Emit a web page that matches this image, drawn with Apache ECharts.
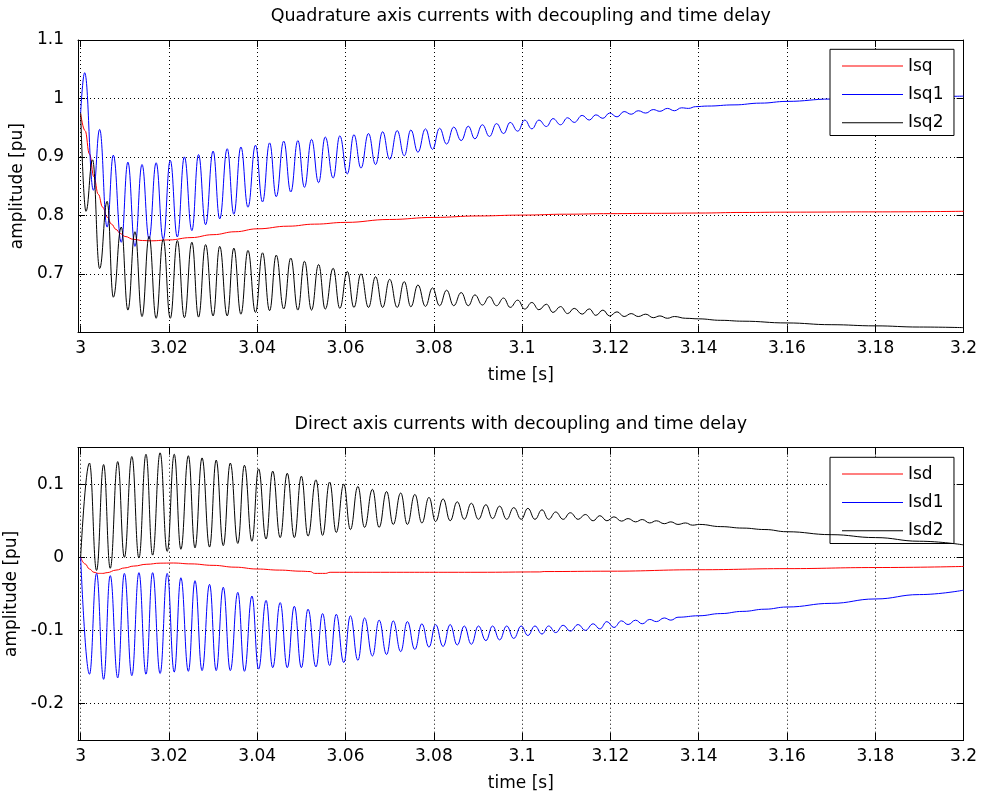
<!DOCTYPE html>
<html>
<head>
<meta charset="utf-8">
<script src="https://cdn.jsdelivr.net/npm/echarts@6/dist/echarts.min.js"></script>
<style>
html,body{margin:0;padding:0;background:#fff;}
#chart{width:982px;height:797px;}
</style>
</head>
<body>
<div id="chart"></div>
<script>
// ---------------- data ----------------
const titles = ['Quadrature axis currents with decoupling and time delay',
                'Direct axis currents with decoupling and time delay'];
const legendQ = ['Isq', 'Isq1', 'Isq2'];
const legendD = ['Isd', 'Isd1', 'Isd2'];
const xName = 'time [s]';
const yName = 'amplitude [pu]';
const xRange = [2.9994, 3.2];
const yRangeQ = [0.6, 1.1];
const yRangeD = [-0.25, 0.15];

const isq = [[3.0,0.974],[3.001,0.945],[3.002,0.905],[3.003,0.866],[3.004,0.836],[3.005,0.814],[3.006,0.797],
[3.007,0.785],[3.008,0.776],[3.009,0.769],[3.010,0.764],[3.012,0.759],[3.014,0.757],[3.016,0.7565],[3.020,0.758],
[3.025,0.762],[3.030,0.767],[3.035,0.772],[3.040,0.777],[3.047,0.7815],[3.053,0.785],[3.060,0.788],[3.070,0.793],
[3.080,0.7965],[3.090,0.799],[3.100,0.8005],[3.110,0.802],[3.120,0.803],[3.130,0.8035],[3.140,0.804],[3.150,0.805],
[3.160,0.8055],[3.180,0.806],[3.200,0.807]];

const isq1 = [[3.0,0.975],[3.0009,1.044],[3.0029,0.843],[3.0043,0.947],[3.0060,0.780],[3.0074,0.903],[3.0092,0.754],
[3.0107,0.891],[3.0123,0.747],[3.0139,0.887],[3.0155,0.760],[3.0171,0.890],[3.0187,0.759],[3.0203,0.894],[3.0219,0.763],
[3.0235,0.900],[3.0252,0.774],[3.0267,0.904],[3.0283,0.784],[3.0300,0.910],[3.0315,0.794],[3.0332,0.914],[3.0347,0.802],
[3.0363,0.917],[3.0379,0.814],[3.0396,0.920],[3.0412,0.823],[3.0428,0.924],[3.0443,0.832],[3.0460,0.927],[3.0476,0.840],
[3.0492,0.928],[3.0507,0.848],[3.0523,0.930],[3.0539,0.856],[3.0554,0.934],[3.0572,0.864],[3.0587,0.936],[3.0604,0.871],
[3.0619,0.938],[3.0635,0.881],[3.0652,0.940],[3.0668,0.887],[3.0684,0.943],[3.0700,0.896],[3.0717,0.945],[3.0733,0.902],
[3.0748,0.946],[3.0764,0.908],[3.0781,0.948],[3.0797,0.913],[3.0813,0.949],[3.0829,0.922],[3.0845,0.951],[3.0862,0.928],
[3.0878,0.9525],[3.0893,0.931],[3.0910,0.955],[3.0926,0.935],[3.0942,0.957],[3.0958,0.940],[3.0973,0.959],[3.0990,0.944],
[3.1006,0.963],[3.1022,0.948],[3.1038,0.963],[3.1055,0.952],[3.1070,0.9655],[3.1087,0.955],[3.1103,0.967],[3.1118,0.959],
[3.1136,0.971],[3.1152,0.963],[3.1167,0.972],[3.1183,0.966],[3.1198,0.975],[3.1215,0.9685],[3.1231,0.9776],[3.1247,0.973],
[3.1263,0.979],[3.1280,0.975],[3.1297,0.981],[3.1312,0.978],[3.1329,0.983],[3.1345,0.979],[3.1361,0.984],[3.1377,0.983],
[3.1393,0.986],[3.142,0.987],[3.148,0.989],[3.154,0.992],[3.160,0.995],[3.170,0.999],[3.180,1.001],[3.190,1.003],[3.200,1.004]];

const isq2 = [[3.0,0.975],[3.0012,0.807],[3.0027,0.895],[3.0043,0.709],[3.0060,0.824],[3.0074,0.660],[3.0092,0.780],
[3.0107,0.638],[3.0123,0.772],[3.0139,0.627],[3.0155,0.764],[3.0171,0.624],[3.0187,0.759],[3.0203,0.624],[3.0219,0.757],
[3.0235,0.625],[3.0252,0.754],[3.0267,0.626],[3.0283,0.750],[3.0300,0.628],[3.0315,0.747],[3.0332,0.628],[3.0347,0.744],
[3.0363,0.631],[3.0379,0.740],[3.0396,0.634],[3.0412,0.736],[3.0428,0.637],[3.0443,0.732],[3.0460,0.640],[3.0476,0.727],
[3.0492,0.638],[3.0507,0.7215],[3.0523,0.638],[3.0539,0.716],[3.0554,0.6397],[3.0572,0.7095],[3.0587,0.641],[3.0604,0.704],
[3.0619,0.6426],[3.0635,0.700],[3.0652,0.6426],[3.0668,0.695],[3.0684,0.6426],[3.0700,0.6906],[3.0717,0.6426],[3.0733,0.6866],
[3.0748,0.6437],[3.0764,0.681],[3.0781,0.6443],[3.0797,0.676],[3.0813,0.6455],[3.0829,0.672],[3.0845,0.6455],[3.0862,0.668],
[3.0878,0.6455],[3.0893,0.664],[3.0910,0.6466],[3.0926,0.661],[3.0942,0.6455],[3.0958,0.6586],[3.0973,0.6426],[3.0990,0.655],
[3.1006,0.6397],[3.1022,0.651],[3.1038,0.6386],[3.1055,0.648],[3.1070,0.634],[3.1087,0.644],[3.1103,0.632],[3.1118,0.641],
[3.1136,0.631],[3.1152,0.640],[3.1167,0.629],[3.1183,0.638],[3.1198,0.628],[3.1215,0.635],[3.1231,0.627],[3.1247,0.632],
[3.1263,0.627],[3.1280,0.631],[3.1297,0.625],[3.1312,0.628],[3.1329,0.624],[3.1345,0.627],[3.137,0.624],[3.140,0.623],
[3.145,0.6205],[3.150,0.619],[3.160,0.616],[3.170,0.613],[3.180,0.611],[3.190,0.609],[3.200,0.608]];

const isd = [[3.0,0.0],[3.001,-0.009],[3.002,-0.016],[3.003,-0.0205],[3.004,-0.022],[3.005,-0.022],[3.006,-0.021],
[3.008,-0.0175],[3.010,-0.0145],[3.012,-0.012],[3.015,-0.0095],[3.018,-0.008],[3.021,-0.0078],[3.025,-0.009],[3.030,-0.011],
[3.035,-0.0135],[3.040,-0.016],[3.045,-0.0175],[3.050,-0.019],[3.052,-0.0195],[3.053,-0.022],[3.0555,-0.022],[3.0565,-0.0205],
[3.070,-0.0205],[3.090,-0.0205],[3.104,-0.020],[3.105,-0.0195],[3.120,-0.019],[3.140,-0.017],[3.160,-0.0155],[3.180,-0.014],
[3.200,-0.0125]];

const isd1 = [[3.0,0.0],[3.0020,-0.160],[3.0036,-0.022],[3.0052,-0.167],[3.0067,-0.025],[3.0084,-0.165],[3.0099,-0.022],
[3.0116,-0.162],[3.0132,-0.021],[3.0148,-0.160],[3.0163,-0.021],[3.0180,-0.159],[3.0196,-0.022],[3.0212,-0.157],[3.0227,-0.028],
[3.0244,-0.156],[3.0259,-0.032],[3.0275,-0.155],[3.0292,-0.037],[3.0307,-0.155],[3.0323,-0.041],[3.0339,-0.155],[3.0356,-0.048],
[3.0371,-0.156],[3.0388,-0.053],[3.0403,-0.153],[3.0420,-0.059],[3.0435,-0.151],[3.0452,-0.062],[3.0468,-0.151],[3.0484,-0.067],
[3.0500,-0.151],[3.0515,-0.071],[3.0533,-0.150],[3.0548,-0.077],[3.0564,-0.148],[3.0579,-0.078],[3.0596,-0.144],[3.0611,-0.080],
[3.0628,-0.141],[3.0643,-0.083],[3.0661,-0.135],[3.0676,-0.086],[3.0693,-0.133],[3.0708,-0.087],[3.0725,-0.129],[3.0740,-0.088],
[3.0757,-0.126],[3.0773,-0.091],[3.0789,-0.123],[3.0804,-0.092],[3.0821,-0.122],[3.0837,-0.092],[3.0853,-0.120],[3.0869,-0.094],
[3.0885,-0.119],[3.0901,-0.094],[3.0918,-0.114],[3.0933,-0.094],[3.0949,-0.113],[3.0965,-0.094],[3.0981,-0.111],[3.0998,-0.094],
[3.1013,-0.107],[3.1029,-0.094],[3.1045,-0.105],[3.1060,-0.094],[3.1076,-0.103],[3.1093,-0.093],[3.1109,-0.101],[3.1127,-0.092],
[3.1143,-0.100],[3.1161,-0.091],[3.1176,-0.098],[3.1192,-0.088],[3.1208,-0.096],[3.1225,-0.087],[3.1240,-0.092],[3.1257,-0.086],
[3.1272,-0.091],[3.1289,-0.085],[3.1304,-0.088],[3.1322,-0.083],[3.1337,-0.086],[3.1353,-0.082],[3.140,-0.080],[3.145,-0.077],
[3.150,-0.074],[3.155,-0.071],[3.160,-0.068],[3.170,-0.063],[3.180,-0.057],[3.190,-0.051],[3.200,-0.045]];

const isd2 = [[3.0,0.0],[3.0020,0.129],[3.0036,-0.018],[3.0052,0.127],[3.0067,-0.015],[3.0084,0.131],[3.0099,0.0],
[3.0116,0.138],[3.0132,-0.001],[3.0148,0.141],[3.0163,0.003],[3.0180,0.143],[3.0196,0.008],[3.0212,0.141],[3.0227,0.011],
[3.0244,0.139],[3.0259,0.013],[3.0275,0.136],[3.0292,0.014],[3.0307,0.133],[3.0323,0.016],[3.0339,0.129],[3.0356,0.019],
[3.0371,0.126],[3.0388,0.022],[3.0403,0.121],[3.0420,0.025],[3.0435,0.118],[3.0452,0.027],[3.0468,0.115],[3.0484,0.027],
[3.0500,0.111],[3.0515,0.029],[3.0533,0.106],[3.0548,0.030],[3.0564,0.103],[3.0579,0.034],[3.0596,0.100],[3.0611,0.038],
[3.0628,0.097],[3.0643,0.041],[3.0661,0.093],[3.0676,0.041],[3.0693,0.090],[3.0708,0.045],[3.0725,0.088],[3.0740,0.045],
[3.0757,0.086],[3.0773,0.047],[3.0789,0.082],[3.0804,0.049],[3.0821,0.080],[3.0837,0.050],[3.0853,0.076],[3.0869,0.052],
[3.0885,0.074],[3.0901,0.052],[3.0918,0.072],[3.0933,0.053],[3.0949,0.070],[3.0965,0.052],[3.0981,0.068],[3.0998,0.052],
[3.1013,0.067],[3.1029,0.052],[3.1045,0.065],[3.1060,0.052],[3.1076,0.062],[3.1093,0.052],[3.1109,0.061],[3.1127,0.052],
[3.1143,0.0586],[3.1161,0.050],[3.1176,0.057],[3.1192,0.050],[3.1208,0.0554],[3.1225,0.0495],[3.1240,0.053],[3.1257,0.0485],
[3.1272,0.0517],[3.1289,0.047],[3.1304,0.050],[3.1322,0.046],[3.1337,0.0485],[3.1353,0.045],[3.1370,0.047],[3.1386,0.044],
[3.1402,0.045],[3.145,0.042],[3.150,0.040],[3.155,0.038],[3.160,0.035],[3.170,0.031],[3.180,0.027],[3.190,0.022],[3.200,0.017]];

// ---------------- styling ----------------
const FONT = '"DejaVu Sans", "Liberation Sans", Arial, sans-serif';
const FS = 17;
const BLACK = '#000000';
const colors = ['#ff0000', '#0000ff', '#000000'];
const fmt = v => String(parseFloat(Number(v).toFixed(4)));
const txt = {color: BLACK, fontFamily: FONT, fontSize: FS};

const grids = [
  {left: 78, right: 18.4, top: 40, height: 292.3, outerBoundsMode: 'none', containLabel: false},
  {left: 78, right: 18.4, top: 447.7, height: 292.3, outerBoundsMode: 'none', containLabel: false}
];

function xAx(g, pos, main) {
  return {
    type: 'value', gridIndex: g, position: pos, min: xRange[0], max: xRange[1],
    splitNumber: 10, minInterval: 0.02, maxInterval: 0.02,
    axisLine: {show: true, onZero: false, lineStyle: {color: BLACK, width: 1}},
    axisTick: {show: true, inside: true, length: 7, lineStyle: {color: BLACK, width: 1}},
    axisLabel: Object.assign({show: main, showMinLabel: false, margin: 8, formatter: fmt}, txt),
    splitLine: {show: main, lineStyle: {color: BLACK, type: [1, 3], width: 1}},
    name: main ? xName : '', nameLocation: 'middle', nameGap: 35, nameTextStyle: txt
  };
}
function yAx(g, pos, main, range) {
  return {
    type: 'value', gridIndex: g, position: pos, min: range[0], max: range[1],
    splitNumber: 5, minInterval: 0.1, maxInterval: 0.1,
    axisLine: {show: true, onZero: false, lineStyle: {color: BLACK, width: 1}},
    axisTick: {show: true, inside: true, length: 7, lineStyle: {color: BLACK, width: 1}},
    axisLabel: Object.assign({show: main, showMinLabel: false, showMaxLabel: g === 0, margin: 14, formatter: fmt}, txt),
    splitLine: {show: main, lineStyle: {color: BLACK, type: [1, 3], width: 1}},
    name: main ? yName : '', nameLocation: 'middle', nameGap: 44, nameTextStyle: txt
  };
}
function line(name, data, color, xi, yi, z) {
  return {
    name, type: 'line', data, xAxisIndex: xi, yAxisIndex: yi,
    symbol: 'none', smooth: 0.45, smoothMonotone: 'x', z: z,
    lineStyle: {color, width: 1}, itemStyle: {color}
  };
}
function legend(names, top) {
  return {
    data: names, orient: 'vertical', left: 830, top: top,
    icon: 'rect', itemWidth: 61, itemHeight: 1, itemGap: 11.3,
    padding: [8.3, 10.5, 4.3, 12],
    borderColor: BLACK, borderWidth: 1, backgroundColor: '#ffffff', borderRadius: 0,
    textStyle: Object.assign({lineHeight: 17}, txt), selectedMode: false
  };
}

const option = {
  animation: false,
  backgroundColor: '#ffffff',
  title: [
    {text: titles[0], left: 520.8, top: 7, textAlign: 'center', padding: 0,
     textStyle: {color: BLACK, fontFamily: FONT, fontSize: 17.5, fontWeight: 'normal'}},
    {text: titles[1], left: 520.8, top: 415, textAlign: 'center', padding: 0,
     textStyle: {color: BLACK, fontFamily: FONT, fontSize: 17.5, fontWeight: 'normal'}}
  ],
  legend: [legend(legendQ, 49.3), legend(legendD, 457.3)],
  grid: grids,
  xAxis: [xAx(0, 'bottom', true), xAx(0, 'top', false), xAx(1, 'bottom', true), xAx(1, 'top', false)],
  yAxis: [yAx(0, 'left', true, yRangeQ), yAx(0, 'right', false, yRangeQ),
          yAx(1, 'left', true, yRangeD), yAx(1, 'right', false, yRangeD)],
  series: [
    line(legendQ[0], isq, colors[0], 0, 0, 2),
    line(legendQ[1], isq1, colors[1], 0, 0, 3),
    line(legendQ[2], isq2, colors[2], 0, 0, 4),
    line(legendD[0], isd, colors[0], 2, 2, 2),
    line(legendD[1], isd1, colors[1], 2, 2, 3),
    line(legendD[2], isd2, colors[2], 2, 2, 4)
  ]
};

const chart = echarts.init(document.getElementById('chart'), null, {renderer: 'canvas'});
chart.setOption(option);
</script>
</body>
</html>
